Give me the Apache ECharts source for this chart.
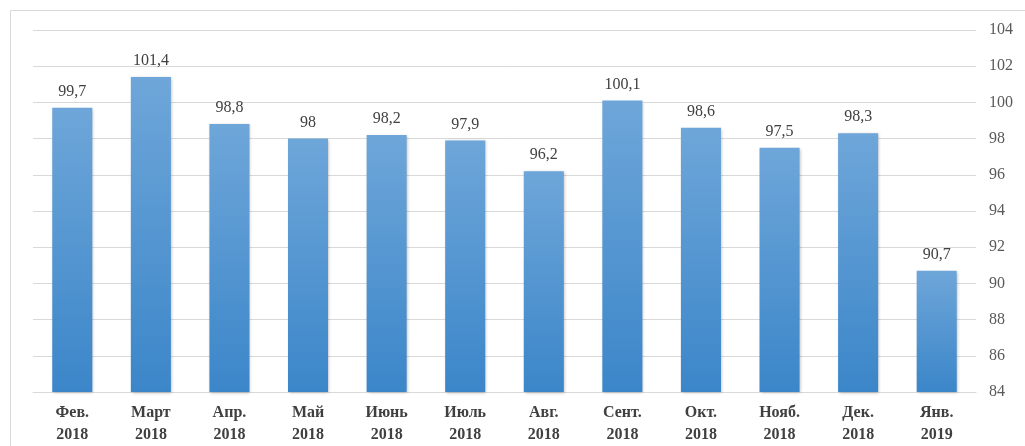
<!DOCTYPE html>
<html><head><meta charset="utf-8">
<script src="https://cdn.jsdelivr.net/npm/echarts@6/dist/echarts.min.js"></script>
<style>html,body{margin:0;padding:0;background:#fff}#c{width:1025px;height:446px}</style>
</head><body><div id="c"></div>
<script>
const categories = ['Фев.\n2018','Март\n2018','Апр.\n2018','Май\n2018','Июнь\n2018','Июль\n2018','Авг.\n2018','Сент.\n2018','Окт.\n2018','Нояб.\n2018','Дек.\n2018','Янв.\n2019'];
const values = [99.7, 101.4, 98.8, 98, 98.2, 97.9, 96.2, 100.1, 98.6, 97.5, 98.3, 90.7];
const yMin = 84, yMax = 104, yStep = 2;

const chart = echarts.init(document.getElementById('c'));
chart.setOption({
  animation: false,
  graphic: [{type:'rect', shape:{x:10.5,y:10.5,width:1030,height:440}, style:{fill:'none', stroke:'#d9d9d9', lineWidth:1}}],
  grid: {left: 33, right: 49, top: 30, bottom: 54},
  xAxis: {
    type: 'category', data: categories,
    axisLine: {lineStyle:{color:'#d9d9d9'}}, axisTick: {show:false},
    axisLabel: {fontFamily:'Liberation Serif', fontSize:16, fontWeight:'bold', color:'#404040', lineHeight:22, margin:10}
  },
  yAxis: {
    type: 'value', position: 'right', min: yMin, max: yMax, interval: yStep,
    axisLine:{show:false}, axisTick:{show:false},
    splitLine:{lineStyle:{color:'#d9d9d9'}},
    axisLabel:{fontFamily:'Liberation Serif', fontSize:16, color:'#595959', margin:13}
  },
  series: [{
    type: 'bar', data: values, barWidth: '51%',
    itemStyle: {
      color: new echarts.graphic.LinearGradient(0,0,0,1,[{offset:0,color:'#6ea6d9'},{offset:1,color:'#3b86c9'}]),
      shadowColor:'rgba(0,0,0,0.25)', shadowBlur:3, shadowOffsetX:1, shadowOffsetY:1
    },
    label: {show:true, position:'top', distance:8, fontFamily:'Liberation Serif', fontSize:16, color:'#404040',
      formatter: p => String(p.value).replace('.', ',')}
  }]
});
</script></body></html>
